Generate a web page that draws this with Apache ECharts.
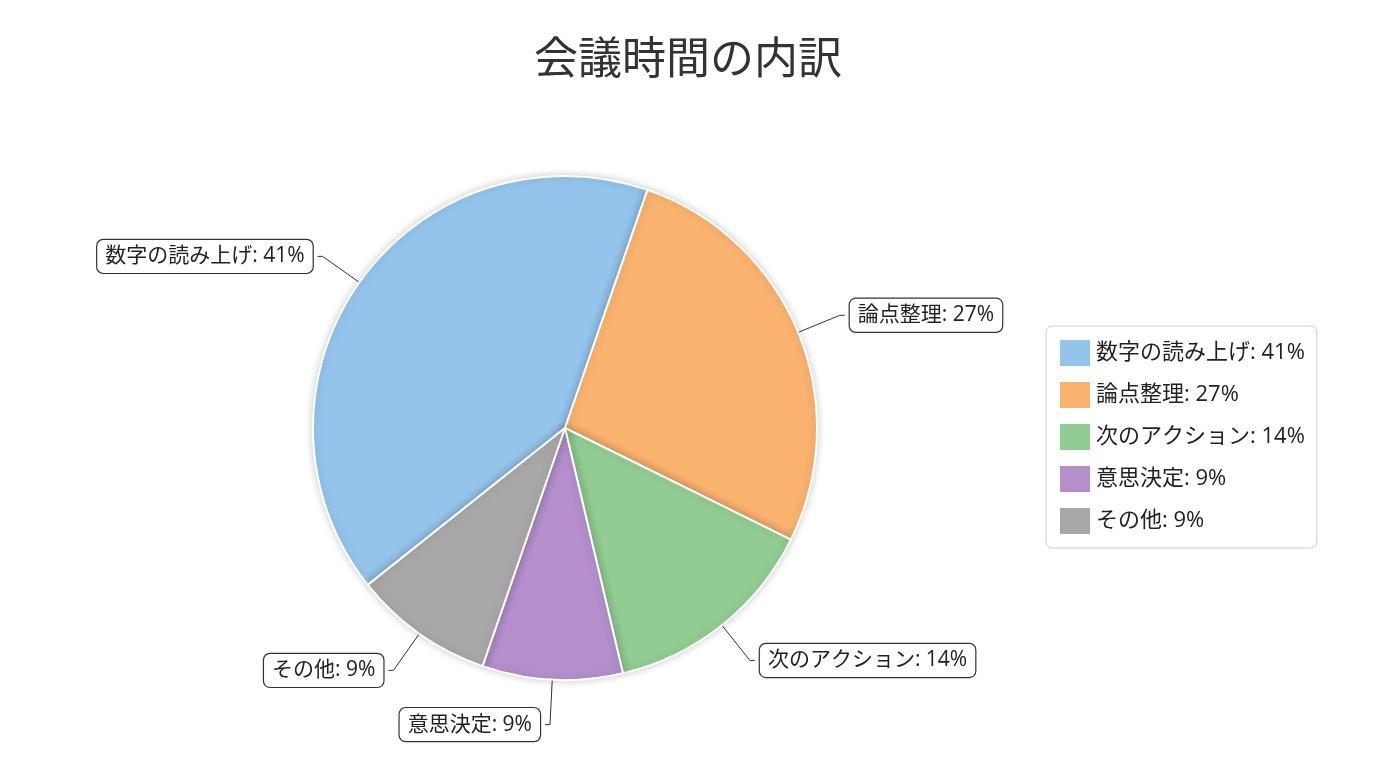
<!DOCTYPE html>
<html><head><meta charset="utf-8">
<script src="https://cdn.jsdelivr.net/npm/echarts@6/dist/echarts.min.js"></script>
<style>html,body{margin:0;padding:0;background:#fff}#c{width:1376px;height:768px}</style>
</head><body><div id="c"></div>
<script>
const categories = ['数字の読み上げ','論点整理','次のアクション','意思決定','その他'];
const values = [41,27,14,9,9];
const colors = ['#94c4ec','#f9b26f','#92cc92','#b48fcc','#a8a8a8'];
const font = '"Open Sans","Noto Sans CJK JP",sans-serif';
const chart = echarts.init(document.getElementById('c'));
chart.setOption({
  title:{text:'会議時間の内訳',left:'center',top:34,textStyle:{fontFamily:font,fontSize:44,fontWeight:'normal',color:'#333'}},
  legend:{orient:'vertical',left:1046,top:326,padding:[12,12,12,12],itemGap:12,itemWidth:32,itemHeight:28,
    borderColor:'#ccc',borderWidth:1,borderRadius:6,icon:'rect',
    formatter:n=>n+': '+values[categories.indexOf(n)]+'%',
    textStyle:{fontFamily:font,fontSize:22,color:'#222'}},
  series:[{type:'pie',center:[565,428],radius:252,startAngle:218.5,
    data:categories.map((n,i)=>({name:n,value:values[i],itemStyle:{color:colors[i]}})),
    itemStyle:{borderColor:'#fff',borderWidth:2,shadowBlur:8,shadowColor:'rgba(0,0,0,0.2)'},
    label:{formatter:'{b}: {c}%',fontFamily:font,fontSize:21,color:'#222',backgroundColor:'#fff',
      borderColor:'#333',borderWidth:1.2,borderRadius:6,padding:[6,8]},
    labelLine:{length:45,length2:5,lineStyle:{color:'#333'}}
  }]
});
</script></body></html>
